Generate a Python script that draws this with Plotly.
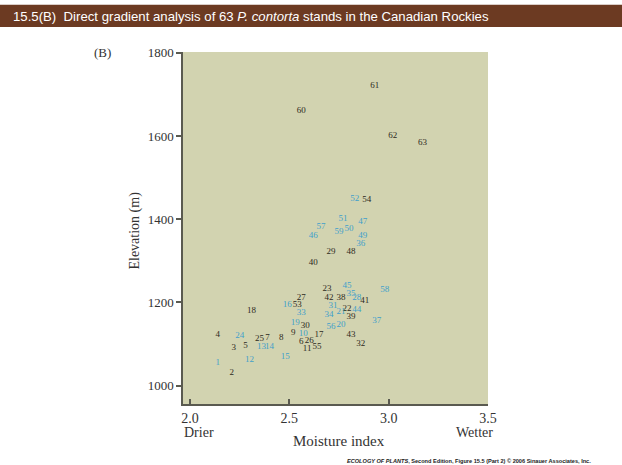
import plotly.graph_objects as go

# Stand numbers, moisture index and elevation (m) for 63 lodgepole pine stands
stand_ids = list(range(1, 64))
moisture = [
    2.14, 2.21, 2.22, 2.14, 2.28, 2.56, 2.39, 2.46, 2.52, 2.57,
    2.59, 2.30, 2.36, 2.40, 2.48, 2.49, 2.65, 2.31, 2.53, 2.76,
    2.76, 2.79, 2.69, 2.25, 2.35, 2.60, 2.56, 2.84, 2.71, 2.58,
    2.72, 2.86, 2.56, 2.70, 2.81, 2.86, 2.94, 2.76, 2.81, 2.62,
    2.88, 2.70, 2.81, 2.84, 2.79, 2.62, 2.87, 2.81, 2.87, 2.80,
    2.77, 2.83, 2.54, 2.89, 2.64, 2.71, 2.66, 2.98, 2.75, 2.56,
    2.93, 3.02, 3.17,
]
elevation = [
    1055, 1030, 1091, 1122, 1095, 1105, 1115, 1115, 1127, 1124,
    1088, 1062, 1093, 1093, 1069, 1194, 1122, 1180, 1151, 1147,
    1177, 1186, 1234, 1121, 1112, 1108, 1212, 1212, 1321, 1143,
    1192, 1102, 1175, 1170, 1222, 1340, 1155, 1212, 1166, 1296,
    1204, 1212, 1122, 1183, 1241, 1360, 1394, 1322, 1360, 1378,
    1402, 1450, 1194, 1446, 1094, 1142, 1381, 1230, 1370, 1662,
    1721, 1600, 1584,
]
# Stands printed in blue; all others are printed in black
blue_stands = [1, 10, 12, 13, 14, 15, 16, 19, 20, 21, 24, 28, 31, 33, 34,
               35, 36, 37, 44, 45, 46, 47, 49, 50, 51, 52, 56, 57, 58, 59]

x_ticks = [2.0, 2.5, 3.0, 3.5]
x_tick_labels = ["2.0", "2.5", "3.0", "3.5"]
y_ticks = [1000, 1200, 1400, 1600, 1800]

BLUE = "#3f9fcb"
BLACK = "#2e2a22"
SERIF = "Liberation Serif, Times New Roman, serif"

fig = go.Figure()

for is_blue, colour in ((False, BLACK), (True, BLUE)):
    xs = [m for s, m in zip(stand_ids, moisture) if (s in blue_stands) == is_blue]
    ys = [e for s, e in zip(stand_ids, elevation) if (s in blue_stands) == is_blue]
    ts = [str(s) for s in stand_ids if (s in blue_stands) == is_blue]
    fig.add_trace(go.Scatter(
        x=xs, y=ys, text=ts, mode="text",
        textposition="middle center",
        textfont=dict(family=SERIF, size=9, color=colour),
        hoverinfo="skip", showlegend=False,
    ))

# Title band across the top of the page
fig.add_shape(type="rect", xref="paper", yref="paper",
              x0=-0.62, x1=1.45, y0=1.071, y1=1.134,
              fillcolor="#6c3a22", line=dict(width=0), layer="above")
fig.add_annotation(
    xref="paper", yref="paper", x=-0.565, y=1.102,
    xanchor="left", yanchor="middle", showarrow=False,
    text="15.5(B)  Direct gradient analysis of 63 <i>P. contorta</i> stands in the Canadian Rockies",
    font=dict(family="Liberation Sans, Arial, sans-serif", size=13.2, color="white"),
)

# Panel letter, end-of-axis words and axis titles
fig.add_annotation(xref="paper", yref="paper", x=-0.265, y=1.0,
                   xanchor="center", yanchor="middle", showarrow=False,
                   text="(B)", font=dict(family=SERIF, size=13, color="#333333"))
fig.add_annotation(xref="paper", yref="paper", x=-0.003, y=-0.08,
                   xanchor="left", yanchor="middle", showarrow=False,
                   text="Drier", font=dict(family=SERIF, size=14, color="#333333"))
fig.add_annotation(xref="paper", yref="paper", x=1.023, y=-0.08,
                   xanchor="right", yanchor="middle", showarrow=False,
                   text="Wetter", font=dict(family=SERIF, size=14, color="#333333"))
fig.add_annotation(xref="paper", yref="paper", x=0.51, y=-0.104,
                   xanchor="center", yanchor="middle", showarrow=False,
                   text="Moisture index", font=dict(family=SERIF, size=15, color="#333333"))
fig.add_annotation(xref="paper", yref="paper", x=-0.156, y=0.494,
                   xanchor="center", yanchor="middle", showarrow=False, textangle=-90,
                   text="Elevation (m)", font=dict(family=SERIF, size=14, color="#333333"))

# Credit line
fig.add_annotation(
    xref="paper", yref="paper", x=0.53, y=-0.162,
    xanchor="left", yanchor="middle", showarrow=False,
    text="<b><i>ECOLOGY OF PLANTS</i>, Second Edition, Figure 15.5 (Part 2) © 2006 Sinauer Associates, Inc.</b>",
    font=dict(family="Liberation Sans, Arial, sans-serif", size=5.6, color="#222222"),
)

fig.update_xaxes(
    range=[1.965, 3.5], tickvals=x_ticks, ticktext=x_tick_labels,
    showgrid=False, zeroline=False,
    showline=True, linecolor="#5a5a50", linewidth=1.5,
    ticks="inside", ticklen=5, tickcolor="#5a5a50", tickwidth=1.5,
    tickfont=dict(family=SERIF, size=14, color="#333333"),
)
fig.update_yaxes(
    range=[956, 1802], tickvals=y_ticks,
    showgrid=False, zeroline=False,
    showline=True, linecolor="#5a5a50", linewidth=1.5,
    ticks="outside", ticklen=5, tickcolor="#5a5a50", tickwidth=1.5,
    tickfont=dict(family=SERIF, size=13, color="#333333"),
)

fig.update_layout(
    width=622, height=465,
    margin=dict(l=183, r=134, t=52, b=61),
    paper_bgcolor="white", plot_bgcolor="#d2d3b0",
)

fig.write_html("out.html")
